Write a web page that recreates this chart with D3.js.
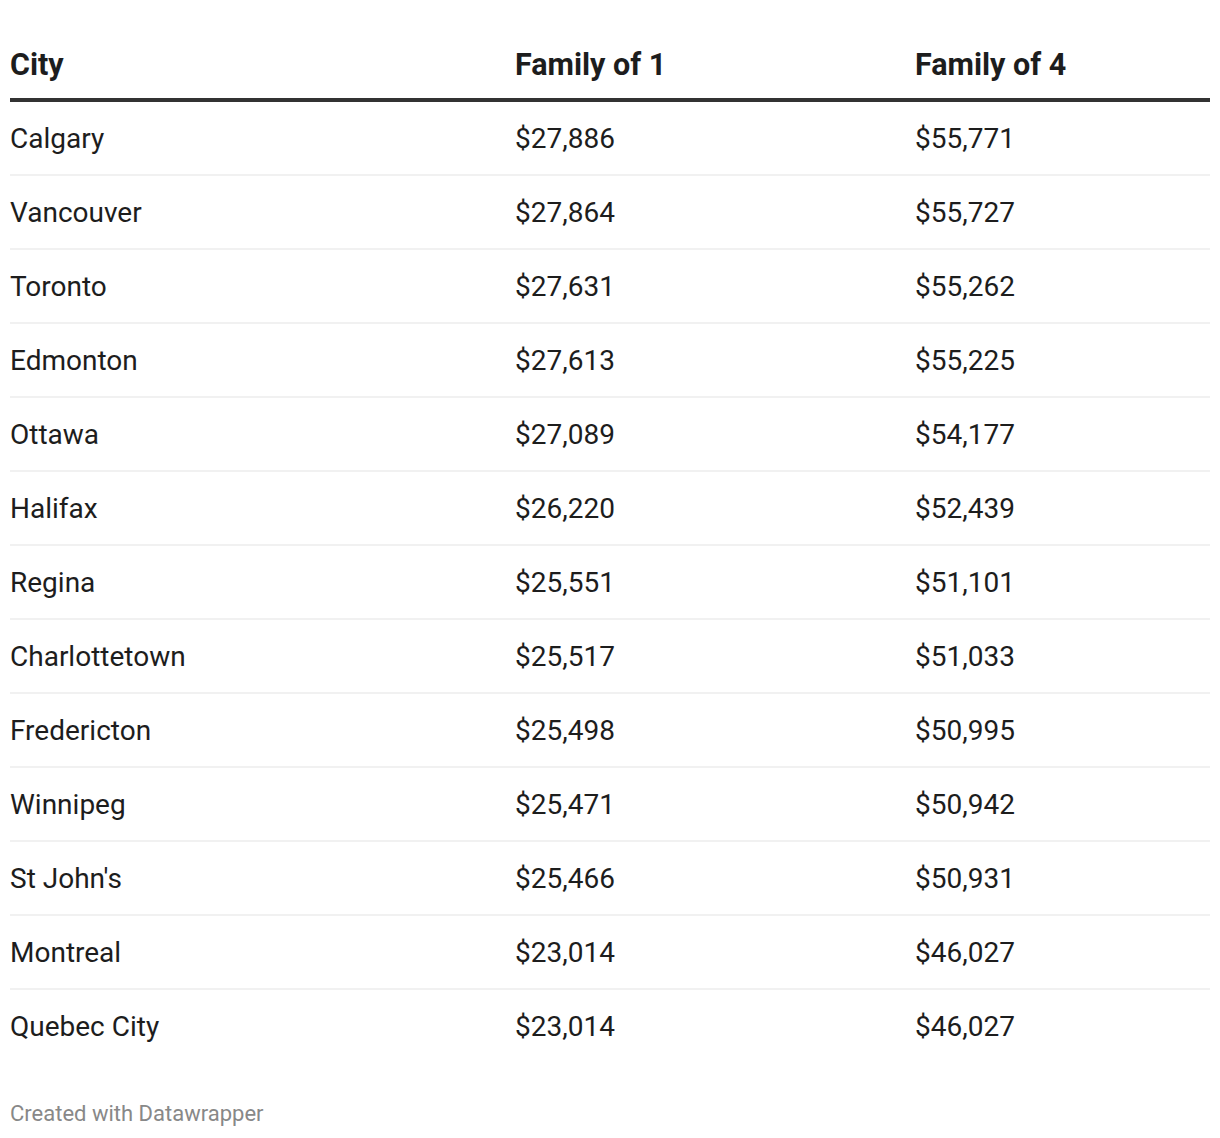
<!DOCTYPE html>
<html><head><meta charset="utf-8">
<script src="https://cdn.jsdelivr.net/npm/d3@7"></script>
<style>body{margin:0;background:#fff;font-family:Roboto,sans-serif}</style>
</head><body><svg id="c" width="1220" height="1138"></svg>
<script>
const headers = ["City", "Family of 1", "Family of 4"];
const cities = ["Calgary","Vancouver","Toronto","Edmonton","Ottawa","Halifax","Regina","Charlottetown","Fredericton","Winnipeg","St John's","Montreal","Quebec City"];
const family1 = [27886,27864,27631,27613,27089,26220,25551,25517,25498,25471,25466,23014,23014];
const family4 = [55771,55727,55262,55225,54177,52439,51101,51033,50995,50942,50931,46027,46027];
const footer = "Created with Datawrapper";

const svg = d3.select("#c");
const left = 10, right = 1210;
const colX = d3.scaleOrdinal().domain([0,1,2]).range([10, 515, 915]);
const y = d3.scaleBand().domain(d3.range(cities.length)).range([101, 101 + 74*cities.length]);
const fmt = d3.format("$,");

svg.selectAll("text.h").data(headers).join("text")
  .attr("x",(d,i)=>colX(i)).attr("y",75)
  .attr("font-family","Roboto").attr("font-weight",700).attr("font-size",30.5)
  .attr("fill","#1d1d1d").text(d=>d);

svg.append("line").attr("x1",left).attr("x2",right).attr("y1",100).attr("y2",100)
  .attr("stroke","#333").attr("stroke-width",4);

const rows = svg.selectAll("g.row").data(cities.map((c,i)=>({c,a:family1[i],b:family4[i],i}))).join("g")
  .attr("transform",d=>`translate(0,${y(d.i)})`);
rows.filter(d=>d.i<cities.length-1).append("line").attr("x1",left).attr("x2",right)
  .attr("y1",y.bandwidth()).attr("y2",y.bandwidth()).attr("stroke","#ececec").attr("stroke-width",1.5);
rows.selectAll("text").data(d=>[d.c,fmt(d.a),fmt(d.b)]).join("text")
  .attr("x",(d,i)=>colX(i)).attr("y",47)
  .attr("font-family","Roboto").attr("font-size",28).attr("fill","#1d1d1d").text(d=>d);

svg.append("text").attr("x",10).attr("y",1121).attr("font-family","Roboto")
  .attr("font-size",22).attr("fill","#888").text(footer);
</script></body></html>
